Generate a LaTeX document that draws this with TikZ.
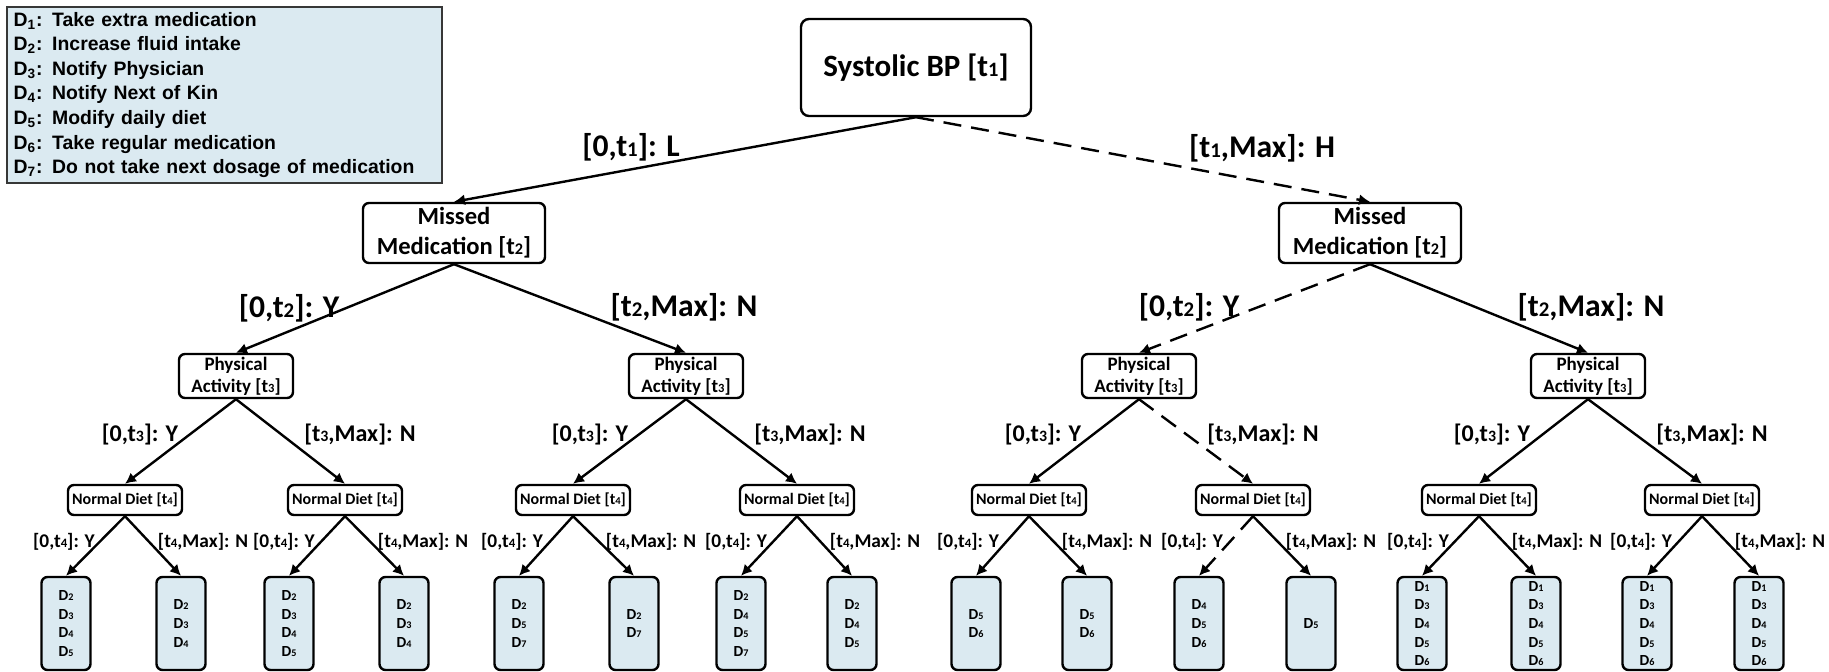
\documentclass[tikz,border=0pt]{standalone}
\usepackage{fontspec}
\setmainfont{Carlito}
\newfontfamily\keyfont{Liberation Sans}
\usetikzlibrary{arrows.meta}
\definecolor{keyblue}{RGB}{219,234,241}
\definecolor{keyline}{RGB}{55,55,55}
\newcommand\tsub[1]{\scalebox{0.66}{#1}}
\newcommand\dn[1]{D\tsub{#1}}
\tikzset{
	box/.style={draw, line width=1.2pt, rounded corners=3pt, inner sep=0pt, align=center},
	rootbox/.style={box, rounded corners=4pt, minimum width=115pt, minimum height=48.5pt, font=\bfseries\fontsize{15.5}{18}\selectfont},
	mmbox/.style={box, minimum width=91pt, minimum height=30pt, font=\bfseries\fontsize{12.3}{15}\selectfont},
	pabox/.style={box, minimum width=57pt, minimum height=22pt, font=\bfseries\fontsize{9.5}{11}\selectfont},
	ndbox/.style={box, minimum width=57pt, minimum height=15pt, font=\bfseries\fontsize{8}{9}\selectfont},
	leafbox/.style={box, fill=keyblue, minimum width=24.5pt, minimum height=46.5pt, font=\bfseries\fontsize{7.7}{9.35}\selectfont},
	keybox/.style={draw=keyline, line width=1.2pt, fill=keyblue, align=left, text width=211pt, inner xsep=3.25pt, inner ysep=0pt, minimum height=88pt, font=\keyfont\bfseries\fontsize{9.7}{12.3}\selectfont},
	labA/.style={font=\bfseries\fontsize{15.8}{18}\selectfont, inner sep=0pt},
	labB/.style={font=\bfseries\fontsize{12}{14}\selectfont, inner sep=0pt},
	labC/.style={font=\bfseries\fontsize{9.7}{11}\selectfont, inner sep=0pt},
	link/.style={line width=1.2pt, -{Latex[length=5.5pt,width=5.5pt]}},
	dlink/.style={link, dash pattern=on 9pt off 5pt}
}
\begin{document}
\begin{tikzpicture}[x=0.5pt,y=-0.5pt]
	\useasboundingbox (0,0) rectangle (1829,671);
	% key
	\node[keybox] (key) at (224.5,95) {D\textsubscript{1}: Take extra medication\\
		D\textsubscript{2}: Increase fluid intake\\
		D\textsubscript{3}: Notify Physician\\
		D\textsubscript{4}: Notify Next of Kin\\
		D\textsubscript{5}: Modify daily diet\\
		D\textsubscript{6}: Take regular medication\\
		D\textsubscript{7}: Do not take next dosage of medication};
	% level 1 and 2
	\node[rootbox] (bp) at (916,67.5) {Systolic BP [t\tsub{1}]};
	\node[mmbox] (mmL) at (454,233) {Missed\\Medication [t\tsub{2}]};
	\node[mmbox] (mmR) at (1370,233) {Missed\\Medication [t\tsub{2}]};
	% level 3
	\foreach \i/\x in {1/236,2/686,3/1139,4/1588}{\node[pabox] (pa\i) at (\x,376) {Physical\\Activity [t\tsub{3}]};};
	% level 4
	\foreach \i/\x in {1/125,2/345,3/573,4/797,5/1029,6/1253,7/1479,8/1702}{\node[ndbox] (nd\i) at (\x,500) {Normal Diet [t\tsub{4}]};};
	% leaves
	\foreach \i/\x/\ds in {1/66/{\dn2\\\dn3\\\dn4\\\dn5}, 2/181/{\dn2\\\dn3\\\dn4}, 3/289/{\dn2\\\dn3\\\dn4\\\dn5}, 4/404/{\dn2\\\dn3\\\dn4},
		5/519/{\dn2\\\dn5\\\dn7}, 6/634/{\dn2\\\dn7}, 7/741/{\dn2\\\dn4\\\dn5\\\dn7}, 8/852/{\dn2\\\dn4\\\dn5},
		9/976/{\dn5\\\dn6}, 10/1087/{\dn5\\\dn6}, 11/1199/{\dn4\\\dn5\\\dn6}, 12/1311/{\dn5},
		13/1422/{\dn1\\\dn3\\\dn4\\\dn5\\\dn6}, 14/1536/{\dn1\\\dn3\\\dn4\\\dn5\\\dn6}, 15/1647/{\dn1\\\dn3\\\dn4\\\dn5\\\dn6}, 16/1759/{\dn1\\\dn3\\\dn4\\\dn5\\\dn6}}{
		\node[leafbox] (lf\i) at (\x,623.5) {\ds};};
	% edges level 1 and 2
	\draw[link] (bp.south) -- (mmL.north);
	\draw[dlink] (bp.south) -- (mmR.north);
	\node[labA] (l1y) at (631,147) {[0,t\tsub{1}]: L};
	\node[labA] (l1n) at (1262,148) {[t\tsub{1},Max]: H};
	\draw[link] (mmL.south) -- (pa1.north);
	\draw[link] (mmL.south) -- (pa2.north);
	\draw[dlink] (mmR.south) -- (pa3.north);
	\draw[link] (mmR.south) -- (pa4.north);
	\node[labA] (l2yL) at (289,308) {[0,t\tsub{2}]: Y};
	\node[labA] (l2nL) at (684,307) {[t\tsub{2},Max]: N};
	\node[labA] (l2yR) at (1189,307) {[0,t\tsub{2}]: Y};
	\node[labA] (l2nR) at (1591,307) {[t\tsub{2},Max]: N};
	% edges level 3
	\foreach \p/\x/\a/\b/\sb in {1/236/1/2/link, 2/686/3/4/link, 3/1139/5/6/dlink, 4/1588/7/8/link}{
		\draw[link] (pa\p.south) -- (nd\a.north);
		\draw[\sb] (pa\p.south) -- (nd\b.north);
		\node[labB] (l3y\p) at (\x-96,434) {[0,t\tsub{3}]: Y};
		\node[labB] (l3n\p) at (\x+124,434) {[t\tsub{3},Max]: N};};
	% edges level 4
	\foreach \n/\x/\a/\b/\sa in {1/125/1/2/link, 2/345/3/4/link, 3/573/5/6/link, 4/797/7/8/link, 5/1029/9/10/link, 6/1253/11/12/dlink, 7/1479/13/14/link, 8/1702/15/16/link}{
		\draw[\sa] (nd\n.south) -- (lf\a.north);
		\draw[link] (nd\n.south) -- (lf\b.north);
		\node[labC] (l4y\n) at (\x-61,542) {[0,t\tsub{4}]: Y};
		\node[labC] (l4n\n) at (\x+78,542) {[t\tsub{4},Max]: N};};
\end{tikzpicture}
\end{document}
